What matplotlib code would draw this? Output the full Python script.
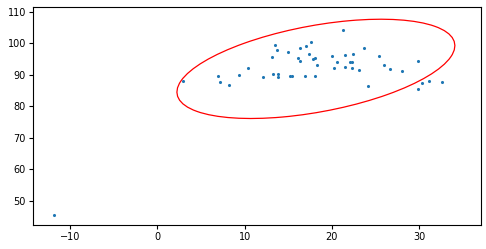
import numpy as np
import matplotlib
matplotlib.use("Agg")
import matplotlib.pyplot as plt
from matplotlib.patches import Ellipse
import matplotlib.transforms as transforms

x = [2.98, 6.99, 7.21, 8.25, 9.39, 10.42, 12.14, 13.25, 13.86, 13.86,
     15.23, 15.46, 16.95, 18.09, 13.17, 13.51, 13.74, 15.00, 16.15, 16.38,
     16.38, 17.06, 17.64, 17.41, 17.86, 18.09, 18.32, 20.04, 20.27, 20.61,
     21.30, 21.53, 21.53, 22.10, 22.25, 22.45, 22.33, 23.13, 23.70, 24.16,
     25.42, 26.00, 26.68, 28.06, 29.89, 29.89, 30.35, 31.15, 32.64, -11.80]
y = [87.9, 89.5, 87.6, 86.6, 89.8, 92.0, 89.2, 90.1, 90.2, 89.2,
     89.5, 89.5, 89.5, 89.5, 95.5, 99.3, 97.7, 97.1, 95.2, 94.3,
     98.4, 99.0, 100.3, 96.5, 94.9, 95.2, 93.0, 95.8, 92.0, 93.9,
     104.1, 96.2, 92.3, 93.9, 93.9, 96.5, 92.0, 91.4, 98.4, 86.3,
     95.8, 93.0, 91.7, 91.1, 94.3, 85.4, 87.3, 87.9, 87.6, 45.4]
n_std = 2.0

xa = np.array(x)
ya = np.array(y)

fig = plt.figure(figsize=(4.86, 2.49), dpi=100)
ax = fig.add_axes([33/486, 1-225/249, (480.7-33)/486, (225-7)/249])

ax.scatter(xa, ya, s=5, color="#1f77b4", linewidths=0)

cov = np.cov(xa, ya)
pearson = cov[0, 1] / np.sqrt(cov[0, 0] * cov[1, 1])
rx = np.sqrt(1 + pearson)
ry = np.sqrt(1 - pearson)
ell = Ellipse((0, 0), width=rx * 2, height=ry * 2, facecolor="none",
              edgecolor="red", linewidth=0.9)
sx = np.sqrt(cov[0, 0]) * n_std
sy = np.sqrt(cov[1, 1]) * n_std
tr = transforms.Affine2D().rotate_deg(45).scale(sx, sy).translate(xa.mean(), ya.mean())
ell.set_transform(tr + ax.transData)
ax.add_patch(ell)
print(xa.mean(), ya.mean(), sx, sy, pearson)

ax.set_xlim(-14.24, 37.05)
ax.set_ylim(42.29, 111.49)
ax.set_xticks([-10, 0, 10, 20, 30])
ax.set_yticks([50, 60, 70, 80, 90, 100, 110])
ax.tick_params(labelsize=7, length=3, width=0.8, pad=2)
for s in ax.spines.values():
    s.set_linewidth(0.8)

fig.savefig("out.png", dpi=100)
